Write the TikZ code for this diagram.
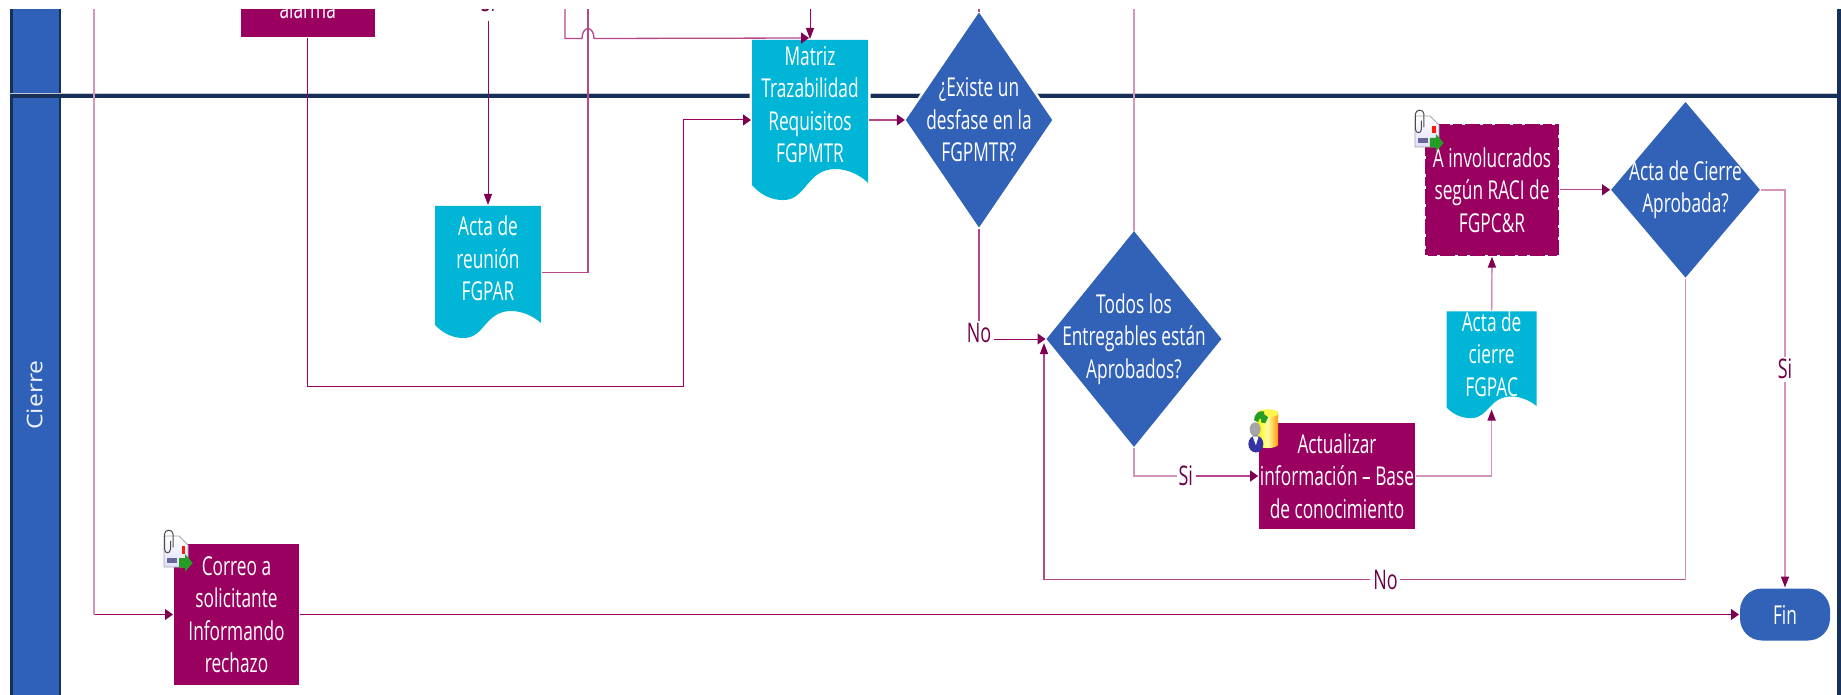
\documentclass[tikz,border=0pt]{standalone}
\usepackage{fontspec}
\usepackage{tikz}
\usetikzlibrary{arrows.meta, positioning, backgrounds, calc}
\setmainfont[FakeStretch=0.665]{Open Sans}
\newfontfamily\lanefont[FakeStretch=1.15]{Open Sans}
\definecolor{lanenavy}{HTML}{17305A}
\definecolor{laneblue}{HTML}{3061B8}
\definecolor{decblue}{HTML}{3162B7}
\definecolor{taskplum}{HTML}{990060}
\definecolor{docteal}{HTML}{00B5D6}
\definecolor{linkplum}{HTML}{990060}
\definecolor{tipplum}{HTML}{7F0050}
\definecolor{labelplum}{HTML}{6E0048}
\tikzstyle{taskbox} = [rectangle, inner sep=0pt, outer sep=0pt, align=center, fill=taskplum, text=white,
  font=\fontsize{26}{32.5}\selectfont]
\tikzstyle{docbox} = [rectangle, inner sep=0pt, outer sep=0pt, align=center, text=white,
  font=\fontsize{26}{32.5}\selectfont]
\tikzstyle{decbox} = [rectangle, inner sep=0pt, outer sep=0pt, align=center, text=white,
  font=\fontsize{26}{32.5}\selectfont]
\tikzstyle{finbox} = [rectangle, rounded corners=22pt, inner sep=0pt, outer sep=0pt, fill=decblue, text=white,
  minimum width=90pt, minimum height=52pt, font=\fontsize{26}{32.5}\selectfont]
\tikzstyle{labelbox} = [rectangle, inner sep=2pt, outer sep=0pt, fill=white, text=labelplum,
  font=\fontsize{27}{30}\selectfont]
\tikzstyle{link} = [line width=1pt, draw=linkplum, shorten <=1pt]
\tikzstyle{midlink} = [line width=1.3pt, draw=linkplum!72!white]
\tikzstyle{palelink} = [line width=1.7pt, draw=linkplum!42!white]
\tikzstyle{arrow} = [link, -{Stealth[length=8pt, width=11pt, inset=0pt, color=tipplum]}, shorten >=1pt]
\tikzstyle{varrow} = [link, -{Stealth[length=11pt, width=8pt, inset=0pt, color=tipplum]}, shorten >=1pt]
\newcommand{\docfill}[2][1]{%
  \begin{scope}[on background layer]
    \fill[docteal, preaction={draw=white, line width=5pt}, shift={(#2.south west)},
      x={($(#2.south east)-(#2.south west)$)}, yscale=#1]
      (0,14) .. controls (0.08,23) and (0.17,27) .. (0.27,27)
      .. controls (0.47,27) and (0.47,0) .. (0.72,0)
      .. controls (0.82,0) and (0.93,5) .. (1,12) -- (#2.north east) -- (#2.north west) -- cycle;
  \end{scope}}
\newcommand{\decfill}[1]{%
  \begin{scope}[on background layer]
    \fill[decblue, preaction={draw=white, line width=5pt}]
      (#1.north) -- (#1.east) -- (#1.south) -- (#1.west) -- cycle;
  \end{scope}}
\newcommand{\mailicon}[1]{%
  \begin{scope}[shift={(#1.north west)}]
    \shade[top color=white, bottom color=blue!12, draw=gray!70, line width=0.8pt]
      (-10,-8) -- (5,-8) -- (14,1) -- (14,23) -- (-10,23) -- cycle;
    \fill[red!80!orange] (7.5,2) rectangle (11,9.5);
    \fill[gray!80!blue] (-7,14) rectangle (3,19);
    \draw[gray!60!black, line width=1pt, line cap=round]
      (-3.5,-3) -- (-3.5,5) .. controls (-3.5,10) and (-9.5,10) .. (-9.5,5) -- (-9.5,-10)
      .. controls (-9.5,-15) and (-1,-15) .. (-1,-10) -- (-1,3);
    \fill[green!55!black!85!white] (5,14) -- (11,14) -- (11,10) -- (18.7,19) -- (11,27.7) -- (11,23.5) -- (5,23.5) -- cycle;
  \end{scope}}
\newcommand{\baseicon}[1]{%
  \begin{scope}[shift={(#1.north west)}]
    \shade[left color=yellow!90!orange, right color=orange!80!yellow, middle color=yellow!35]
      (-2,-10) -- (-2,21) .. controls (-2,26) and (19,26) .. (19,21) -- (19,-10)
      .. controls (19,-15) and (-2,-15) .. (-2,-10) -- cycle;
    \fill[yellow!70] (8.5,-10) ellipse [x radius=10.5, y radius=4];
    \fill[green!55!black!85!white] (-5,-3) .. controls (-5,-10) and (0,-13) .. (5,-12) -- (5,-9) -- (9,-6)
      -- (6,0) -- (2,-1) -- (2,-5) .. controls (0,-5) and (-1,-3) .. (-1,-1) -- cycle;
    \fill[gray!70] (-4,6) ellipse [x radius=5.5, y radius=7];
    \fill[blue!55!black!80!white] (-3.3,20.7) ellipse [x radius=7.5, y radius=8.5];
    \fill[white] (-6.5,13) -- (-0.5,13) -- (-3.3,22) -- cycle;
  \end{scope}}

\begin{document}
\begin{tikzpicture}[x=1pt, y=-1pt]
  \useasboundingbox (0,0) rectangle (1841,695);
  \begin{scope}[on background layer]
    \fill[white] (0,0) rectangle (1841,695);
    \fill[laneblue] (10,9) rectangle (61,695);
    \fill[lanenavy] (10,9) rectangle (13,695);
    \fill[lanenavy] (59,9) rectangle (61,695);
    \fill[blue!10!gray!40] (10,93) rectangle (1838,94.5);
    \fill[lanenavy] (10,94.2) rectangle (1838,98);
    \fill[lanenavy] (1837.3,9) rectangle (1841,695);
  \end{scope}

  \node (cierre) at (34.5,395) [rotate=90, text=white!92!laneblue, font=\lanefont\fontsize{21.5}{26}\selectfont] {Cierre};

  \node (alarma) at (307.7,8.5) [taskbox, minimum width=134pt, minimum height=56.5pt] {alarma};
  \node (correo) at (236.5,614.5) [taskbox, minimum width=125pt, minimum height=141pt] {Correo a\\solicitante\\Informando\\rechazo};
  \node (actualizar) at (1337,476) [taskbox, minimum width=155.7pt, minimum height=105.4pt] {Actualizar\\información -- Base\\de conocimiento};
  \node (involucrados) at (1492,189.8) [taskbox, minimum width=134.2pt, minimum height=131.7pt,
    postaction={draw=white, line width=1.5pt, dash pattern=on 3pt off 9pt on 3pt off 15pt}] {A involucrados\\según RACI de\\FGPC\&R};

  \node (reunion) at (488,258.5) [docbox, minimum width=105.7pt, minimum height=105pt] {Acta de\\reunión\\FGPAR};
  \node (matriz) at (810,104.5) [docbox, minimum width=116pt, minimum height=129pt] {Matriz\\Trazabilidad\\Requisitos\\FGPMTR};
  \node (actacierre) at (1491.6,354) [docbox, minimum width=89.8pt, minimum height=84pt] {Acta de\\cierre\\FGPAC};
  \docfill{reunion}
  \docfill[1.15]{matriz}
  \docfill[0.8]{actacierre}

  \node (existe) at (979,120) [decbox, minimum width=146.4pt, minimum height=215pt] {¿Existe un\\desfase en la\\FGPMTR?};
  \node (todos) at (1134,339) [decbox, minimum width=175pt, minimum height=215.7pt] {Todos los\\Entregables están\\Aprobados?};
  \node (aprobada) [decbox, right=52pt of involucrados, minimum width=148.8pt, minimum height=175.6pt] {Acta de Cierre\\Aprobada?};
  \decfill{existe}
  \decfill{todos}
  \decfill{aprobada}

  \node (fin) at (1785,614.5) [finbox] {Fin};

  \node (sireunion) at (488,1.5) [labelbox] {Si};
  \node (noexiste) at (979,333) [labelbox] {No};
  \node (sitodos) at (1185.8,476) [labelbox] {Si};
  \node (noacta) at (1385.5,579.5) [labelbox] {No};
  \node (siacta) at (1785,369) [labelbox] {Si};

  \coordinate (lanein) at (94,0);
  \coordinate (turnmatriz) at (683,386.5);
  \coordinate (matriztop) at (810,0);
  \coordinate (jumpin) at (565,0);
  \coordinate (jumpend) at (810,38);
  \coordinate (reunionout) at (588,0);
  \coordinate (existetop) at (979,0);
  \coordinate (todostop) at (1134,0);

  \draw[link, palelink] (lanein) -- (lanein |- correo.west);
  \draw[arrow] (lanein |- correo.west) -- (correo.west);
  \draw[arrow] (correo.east) -- (fin.west);
  \draw[arrow] (alarma.south) |- (turnmatriz) |- (matriz.west |- existe.west);
  \draw[varrow] (matriztop) -- (matriz.north);
  \draw[arrow, midlink] (jumpin) -- (565,38.5) -- (582,38.5) arc [start angle=180, end angle=360, x radius=6, y radius=10] -- (jumpend);
  \draw[varrow] ([yshift=-6pt]sireunion.south) -- (reunion.north);
  \draw[link, midlink] ([yshift=-14pt]reunion.east) -| (reunionout);
  \draw[arrow, midlink] (matriz.east |- existe.west) -- (existe.west);
  \draw[link, midlink] (existetop) -- (existe.north);
  \draw[link, midlink] (existe.south) -- (noexiste.north);
  \draw[arrow] (noexiste.east |- todos.west) -- (todos.west);
  \draw[link, palelink] (todostop) -- (todos.north);
  \draw[link, palelink] (todos.south) |- (sitodos.west);
  \draw[arrow, midlink] (sitodos.east) -- (actualizar.west);
  \draw[varrow, palelink] (actualizar.east) -| ([yshift=-12pt]actacierre.south);
  \draw[varrow, palelink] (actacierre.north) -- (involucrados.south);
  \draw[arrow, midlink] (involucrados.east) -- (aprobada.west);
  \draw[link, palelink] (aprobada.east) -| (siacta.north);
  \draw[varrow, palelink] (siacta.south) -- (fin.north);
  \draw[link, palelink] (aprobada.south) -- (aprobada.south |- noacta.east);
  \draw[link, midlink] (aprobada.south |- noacta.east) -- (noacta.east);
  \draw[varrow, midlink] (noacta.west) -| ([shift={(-2.5pt,-3pt)}]todos.west);

  \mailicon{correo}
  \mailicon{involucrados}
  \baseicon{actualizar}

  \fill[white] (0,0) rectangle (1841,9);
\end{tikzpicture}
\end{document}
